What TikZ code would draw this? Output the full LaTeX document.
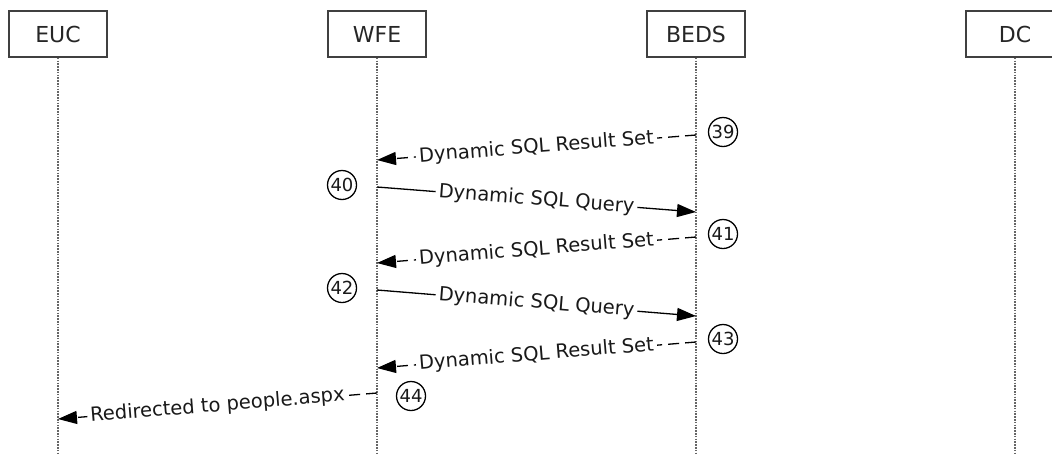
\documentclass[tikz,border=0pt]{standalone}
\usepackage{fontspec}
\setmainfont{DejaVu Sans}
\usetikzlibrary{arrows.meta, calc, positioning}

\tikzset{
	actor/.style={draw=black!75, line width=1.6pt, minimum width=98pt, minimum height=46pt, inner sep=0pt, text=black!85, font=\fontsize{22}{26}\selectfont},
	lifeline/.style={draw=black!60, line width=2pt, dash pattern=on 1.6pt off 1.2pt},
	msg/.style={line width=1.3pt, -{Triangle[length=19pt, width=13pt]}},
	reply/.style={msg, dash pattern=on 11pt off 6pt},
	msglabel/.style={sloped, fill=white, inner sep=3pt, text=black!90, font=\fontsize{19.5}{22}\selectfont},
	stepnum/.style={draw, circle, line width=1.3pt, minimum size=29pt, inner sep=0pt, text=black!90, font=\fontsize{18}{20}\selectfont}
}

\begin{document}
\begin{tikzpicture}[x=1pt, y=-1pt]
	\useasboundingbox (0,0) rectangle (1052,453);

	\node[actor] (euc) at (58,34) {EUC};
	\node[actor] (wfe) at (377,34) {WFE};
	\node[actor] (beds) at (696,34) {BEDS};
	\node[actor] (dc) at (1015,34) {DC};

	\foreach \n in {euc, wfe, beds, dc} {
			\draw[lifeline] (\n.south) -- (\n |- 0,453);
		}

	% result sets coming back from BEDS
	\foreach \num/\ya/\yb in {39/135/160, 41/237/263, 43/342/368} {
			\coordinate (b\num) at (beds |- 0,\ya);
			\coordinate (w\num) at (wfe |- 0,\yb);
			\draw[reply] (b\num) -- node[msglabel] {Dynamic SQL Result Set} (w\num);
			\node[stepnum] (s\num) at ($(b\num) + (27,-3)$) {\num};
		}

	% queries sent to BEDS
	\foreach \num/\ya/\yb in {40/187/212, 42/290/316} {
			\coordinate (w\num) at (wfe |- 0,\ya);
			\coordinate (b\num) at (beds |- 0,\yb);
			\draw[msg] (w\num) -- node[msglabel] {Dynamic SQL Query} (b\num);
			\node[stepnum] (s\num) at ($(w\num) + (-35,-2)$) {\num};
		}

	\coordinate (w44) at (wfe |- 0,393);
	\coordinate (e44) at (euc |- 0,419);
	\draw[reply] (w44) -- node[msglabel] {Redirected to people.aspx} (e44);
	\node[stepnum] (s44) at ($(w44) + (34,3)$) {44};

\end{tikzpicture}
\end{document}
